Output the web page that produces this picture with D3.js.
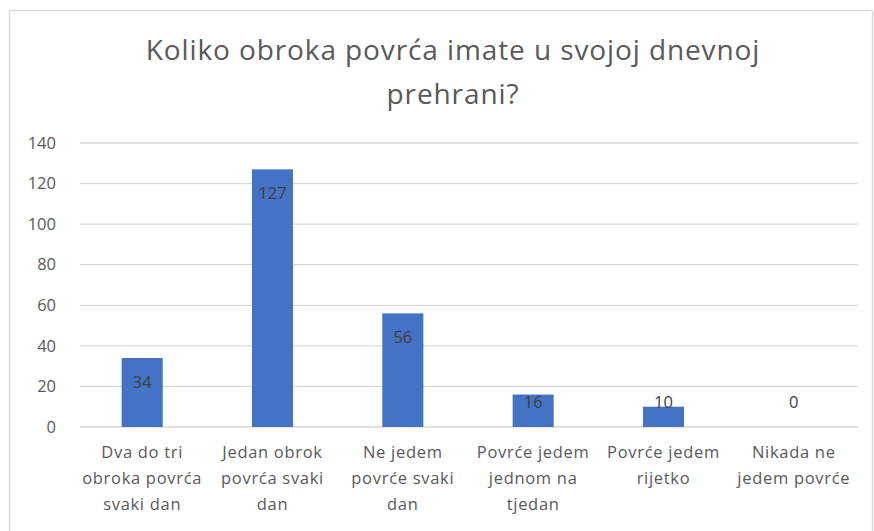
<!DOCTYPE html>
<html>
<head>
<meta charset="utf-8">
<script src="https://cdn.jsdelivr.net/npm/d3@7"></script>
<style>
  html, body { margin: 0; padding: 0; background: #ffffff; }
  svg { display: block; }
</style>
</head>
<body>
<script>
const titleLines = ["Koliko obroka povrća imate u svojoj dnevnoj", "prehrani?"];
const categories = [
  "Dva do tri obroka povrća svaki dan",
  "Jedan obrok povrća svaki dan",
  "Ne jedem povrće svaki dan",
  "Povrće jedem jednom na tjedan",
  "Povrće jedem rijetko",
  "Nikada ne jedem povrće"
];
const categoryLines = [
  ["Dva do tri", "obroka povrća", "svaki dan"],
  ["Jedan obrok", "povrća svaki", "dan"],
  ["Ne jedem", "povrće svaki", "dan"],
  ["Povrće jedem", "jednom na", "tjedan"],
  ["Povrće jedem", "rijetko"],
  ["Nikada ne", "jedem povrće"]
];
const values = [34, 127, 56, 16, 10, 0];
const yTicks = [0, 20, 40, 60, 80, 100, 120, 140];

const W = 874, H = 531;
const font = "'Open Sans', 'Noto Sans', sans-serif";
const svg = d3.select("body").append("svg").attr("width", W).attr("height", H);

// chart border
svg.append("rect").attr("x", 9.5).attr("y", 10.5).attr("width", 863).attr("height", 540)
  .attr("fill", "#fff").attr("stroke", "#d9d9d9").attr("stroke-width", 1.5);

const x = d3.scaleBand().domain(categories).range([77, 859]).paddingInner(0.685).paddingOuter(0.3425);
const y = d3.scaleLinear().domain([0, 140]).range([427, 143]);

// gridlines
svg.append("g").selectAll("line").data(yTicks).join("line")
  .attr("x1", 80).attr("x2", 858)
  .attr("y1", d => y(d)).attr("y2", d => y(d))
  .attr("stroke", "#d9d9d9").attr("stroke-width", 1.3);

// y axis labels
const yAxis = d3.axisLeft(y).tickValues(yTicks).tickSize(0).tickPadding(0);
const gy = svg.append("g").attr("transform", "translate(56,0)").call(yAxis);
gy.select(".domain").remove();
gy.selectAll("text").attr("fill", "#595959").style("font-family", font).style("font-size", "16.5px");

// title
svg.append("g").selectAll("text").data(titleLines).join("text")
  .attr("x", 453).attr("y", (d, i) => 60 + i * 44)
  .attr("text-anchor", "middle")
  .attr("fill", "#595959")
  .style("font-family", font).style("font-size", "28px").style("letter-spacing", "0.9px")
  .text(d => d);

// bars
svg.append("g").selectAll("rect").data(values).join("rect")
  .attr("x", (d, i) => x(categories[i]))
  .attr("width", x.bandwidth())
  .attr("y", d => y(d))
  .attr("height", d => y(0) - y(d))
  .attr("fill", "#4472c4");

// data labels
svg.append("g").selectAll("text").data(values).join("text")
  .attr("x", (d, i) => x(categories[i]) + x.bandwidth() / 2)
  .attr("y", d => Math.min(y(d) + 24, 402) + 6)
  .attr("text-anchor", "middle")
  .attr("fill", "#404040")
  .style("font-family", font).style("font-size", "16.5px")
  .text(d => d);

// category labels
const gx = svg.append("g");
categoryLines.forEach((lines, i) => {
  const cx = x(categories[i]) + x.bandwidth() / 2;
  gx.append("text")
    .attr("text-anchor", "middle")
    .attr("fill", "#595959")
    .style("font-family", font).style("font-size", "16.5px").style("letter-spacing", "0.7px")
    .selectAll("tspan").data(lines).join("tspan")
    .attr("x", cx).attr("y", (d, j) => 458 + j * 26)
    .text(d => d);
});
</script>
</body>
</html>
